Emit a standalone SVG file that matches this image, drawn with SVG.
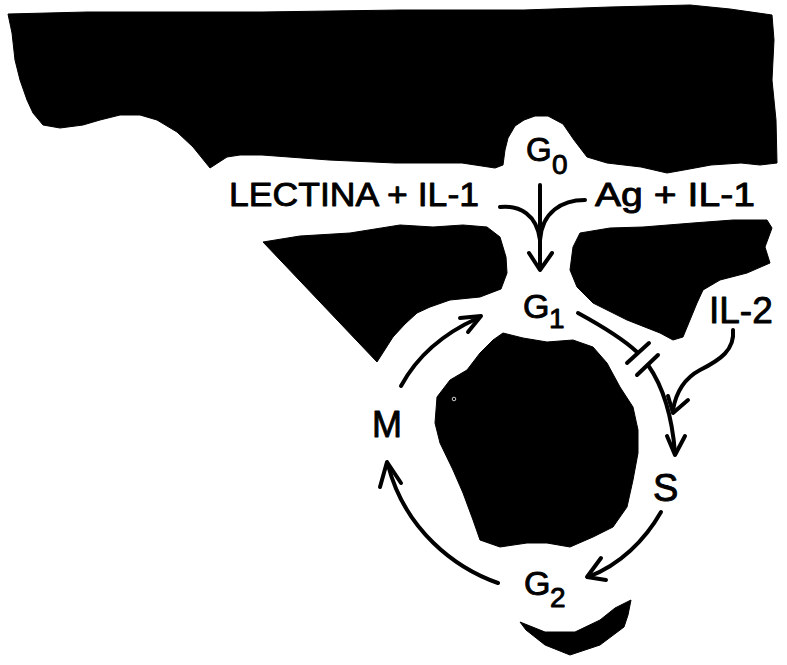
<svg xmlns="http://www.w3.org/2000/svg" width="787" height="665" viewBox="0 0 787 665">
<defs>
<style>
.blk{fill:#000;stroke:#000;stroke-width:1;stroke-linejoin:round}
.t{font-family:"Liberation Sans",Arial,sans-serif;fill:#000;stroke:#000;stroke-width:0.9;stroke-linejoin:round}
.c{fill:none;stroke:#000;stroke-width:4;stroke-linecap:round;stroke-linejoin:round}
</style>
</defs>
<rect x="0" y="0" width="787" height="665" fill="#fff"/>
<g id="shapes">
<path id="top-mass" class="blk" d="M8 14 L87 12 L262 12 L400 10 L524 10 L610 7 L690 5 L730 9 L772 15 L774 40 L772 80 L776 120 L777 163 L760 165 L741 163 L711 165 L684 170 L667 173 L641 167 L607 163 L587 157 L574 140 L563 124 L548 116 L535 116 L524 120 L515 126 L508 138 L505 150 L503 165 L495 168 L462 163 L395 163 L329 160 L262 155 L240 155 L227 157 L210 168 L193 147 L177 132 L157 120 L140 115 L120 115 L100 120 L83 125 L60 128 L43 125 L33 113 L27 100 L20 80 L15 60 L12 33 Z"/>
<path id="left-mass" class="blk" d="M263 242 L300 236 L350 233 L400 225 L433 227 L463 225 L487 227 L500 237 L506 257 L507 273 L501 289 L480 297 L450 300 L430 307 L417 313 L405 324 L393 337 L377 362 Z"/>
<path id="right-mass" class="blk" d="M580 233 L610 228 L643 227 L693 223 L733 220 L767 220 L772 228 L765 247 L770 263 L747 273 L720 280 L703 290 L697 303 L690 320 L683 337 L673 340 L660 333 L627 320 L593 303 L577 287 L570 270 L573 247 Z"/>
<path id="center-mass" class="blk" d="M493 340 L503 333 L523 338 L547 342 L573 340 L593 347 L607 363 L620 387 L633 407 L638 430 L638 453 L633 480 L627 507 L613 527 L593 537 L570 547 L547 543 L527 543 L500 547 L480 540 L473 520 L463 493 L453 470 L440 443 L435 423 L437 397 L450 380 L467 370 L480 353 Z"/>
<circle cx="454" cy="399" r="1.8" fill="none" stroke="#fff" stroke-width="0.8"/>
<path id="bottom-smudge" class="blk" d="M520 622 L545 632 L575 632 L600 620 L615 608 L631 600 L628 615 L624 627 L600 645 L570 655 L545 645 L526 630 Z"/>
</g>
<g id="node-lectina"><text class="t" x="229" y="206" font-size="34" textLength="250" lengthAdjust="spacingAndGlyphs">LECTINA + IL-1</text></g>
<g id="node-ag"><text class="t" x="595" y="206" font-size="34" textLength="160" lengthAdjust="spacingAndGlyphs">Ag + IL-1</text></g>
<g id="node-g0"><text class="t" x="526" y="161" font-size="33">G</text><text class="t" x="552" y="174" font-size="28">0</text></g>
<g id="node-g1"><text class="t" x="523" y="318" font-size="34">G</text><text class="t" x="549" y="328" font-size="28">1</text></g>
<g id="node-g2"><text class="t" x="524" y="595" font-size="34">G</text><text class="t" x="550" y="607" font-size="28">2</text></g>
<g id="node-m"><text class="t" x="372" y="437" font-size="36">M</text></g>
<g id="node-s"><text class="t" x="653" y="501" font-size="38">S</text></g>
<g id="node-il2"><text class="t" x="709" y="323" font-size="37">IL-2</text></g>
<g id="connectors">
<path class="c" d="M540 185 L540 268"/>
<path class="c" d="M529 253 L540 270 L552 253"/>
<path class="c" d="M500 207 C520 205 537 215 540 240"/>
<path class="c" d="M585 200 C562 200 542 212 540 240"/>
<path class="c" d="M401 386 C415 360 440 335 478 318"/>
<path class="c" d="M460 318 L481 316 L468 332"/>
<path class="c" d="M498 583 C455 568 405 530 388 465"/>
<path class="c" d="M380 487 L387 462 L401 483"/>
<path class="c" d="M661 512 C645 540 620 565 588 577"/>
<path class="c" d="M601 558 L587 577 L606 580"/>
<path class="c" d="M578 313 C600 325 622 338 637 352"/>
<path class="c" d="M627 363 L649 343"/>
<path class="c" d="M637 375 L658 355"/>
<path class="c" d="M648 365 C662 385 672 415 675 453"/>
<path class="c" d="M667 436 L675 455 L685 436"/>
<path class="c" d="M733 330 C735 350 720 360 700 370 C685 378 676 392 673 410"/>
<path class="c" d="M668 396 L673 413 L688 400"/>
</g>
</svg>
